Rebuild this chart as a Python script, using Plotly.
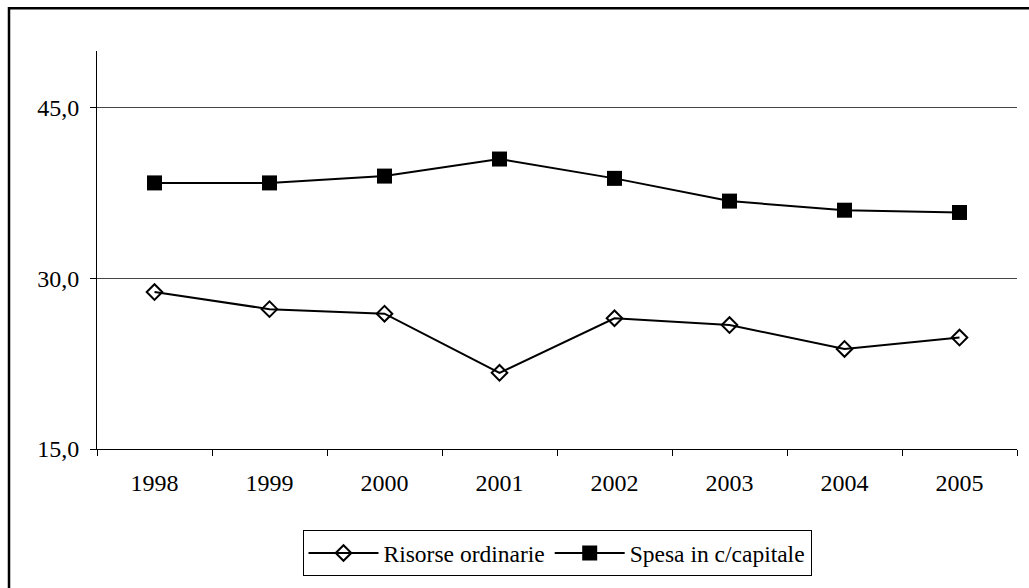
import plotly.graph_objects as go

years = ["1998", "1999", "2000", "2001", "2002", "2003", "2004", "2005"]
risorse_ordinarie = [28.8, 27.3, 26.9, 21.7, 26.5, 25.9, 23.8, 24.8]
spesa_c_capitale = [38.4, 38.4, 39.0, 40.5, 38.8, 36.8, 36.0, 35.8]
y_tickvals = [15, 30, 45]
y_ticktext = ["15,0", "30,0", "45,0"]

FONT = "Liberation Serif"
FS = 24
FS_LEG = 23.5

fig = go.Figure()
fig.add_trace(go.Scatter(
    x=years, y=risorse_ordinarie, name="Risorse ordinarie",
    mode="lines+markers",
    line=dict(color="black", width=2),
    marker=dict(symbol="diamond-open", size=12, color="black", line=dict(width=2, color="black")),
))
fig.add_trace(go.Scatter(
    x=years, y=spesa_c_capitale, name="Spesa in c/capitale",
    mode="lines+markers",
    line=dict(color="black", width=2),
    marker=dict(symbol="square", size=15, color="black"),
))

W, H = 1029, 588
L, R, T, B = 97, 12, 51, 136
pw = W - L - R
ph = H - T - B

def px_x(v):
    return (v - L) / pw

def px_y(v):
    return (H - B - v) / ph

fig.add_shape(type="rect", xref="paper", yref="paper",
              x0=px_x(9), x1=px_x(1040), y0=px_y(600), y1=px_y(8),
              line=dict(color="black", width=2.5), layer="above")

fig.update_layout(
    width=W, height=H,
    margin=dict(l=L, r=R, t=T, b=B),
    paper_bgcolor="white", plot_bgcolor="white",
    font=dict(family=FONT, size=FS, color="black"),
    showlegend=True,
    legend=dict(orientation="h", x=px_x(557), xanchor="center", y=px_y(557), yanchor="middle",
                bordercolor="black", borderwidth=1, font=dict(family=FONT, size=FS_LEG, color="black"),
                itemwidth=70, tracegroupgap=0),
    xaxis=dict(type="category", showgrid=False, showline=True, linecolor="black", linewidth=1,
               ticks="outside", tickson="boundaries", ticklen=6, tickcolor="black",
               ticklabelstandoff=12,
               range=[-0.5, 7.5], tickfont=dict(family=FONT, size=FS, color="black"), fixedrange=True),
    yaxis=dict(range=[15, 50], tickvals=y_tickvals, ticktext=y_ticktext,
               showgrid=True, gridcolor="#444", gridwidth=1,
               showline=True, linecolor="black", linewidth=1,
               ticks="outside", ticklen=6, tickcolor="black", zeroline=False,
               ticklabelstandoff=6,
               tickfont=dict(family=FONT, size=FS, color="black"), fixedrange=True),
)

fig.write_html("out.html", config={"displayModeBar": False},
               post_script="document.body.style.margin='0px';")
